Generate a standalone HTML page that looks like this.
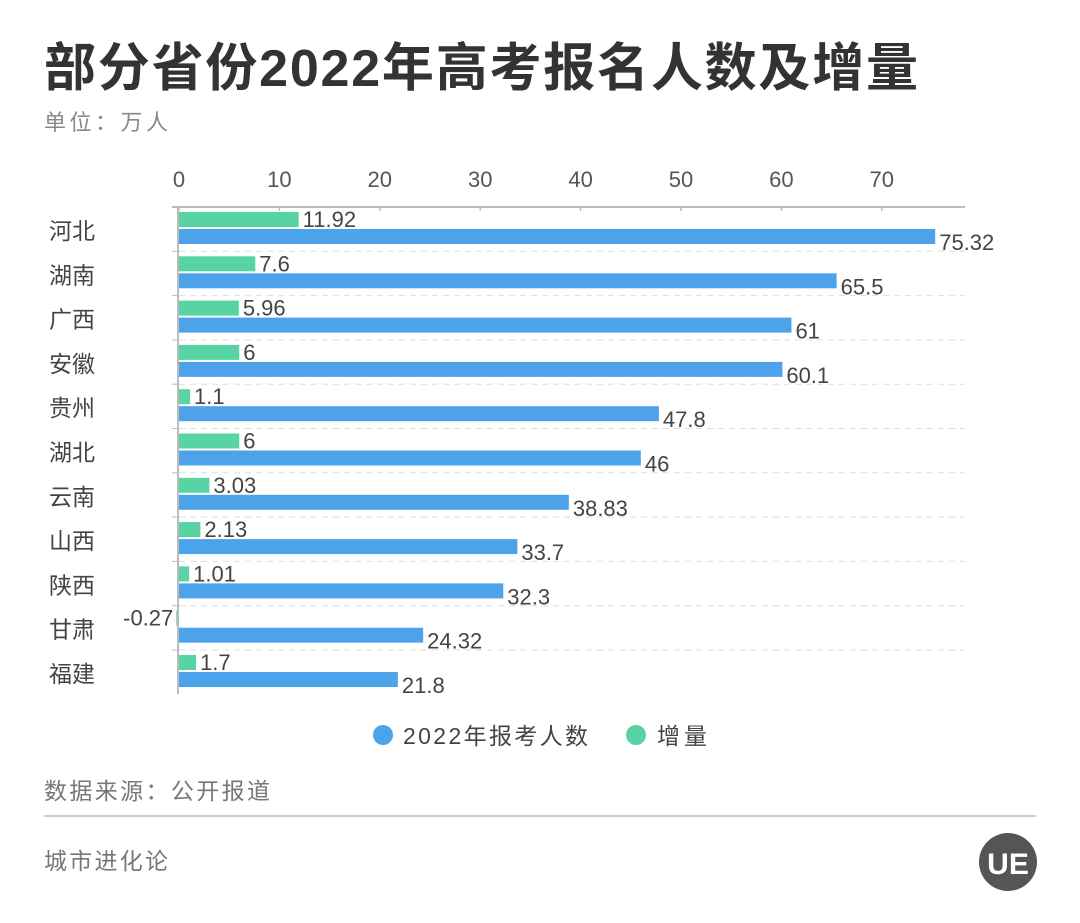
<!DOCTYPE html>
<html><head><meta charset="utf-8"><style>
body{margin:0;width:1080px;height:918px;background:#fff;overflow:hidden;font-family:"Liberation Sans","Noto Sans CJK SC",sans-serif;}
svg text{font-family:"Liberation Sans","Noto Sans CJK SC",sans-serif;}
</style></head><body>
<svg width="1080" height="918">
<text x="44" y="86" font-size="52" font-weight="bold" fill="#333" textLength="874">部分省份2022年高考报名人数及增量</text>
<text x="44" y="130" font-size="22" fill="#888" textLength="124">单位：万人</text>
<g id="plot"></g>
<g>
<g><circle cx="383" cy="735" r="10" fill="#4da3ea"/><text x="403" y="744" font-size="23" fill="#444" textLength="185">2022年报考人数</text></g>
<g><circle cx="636" cy="735" r="10" fill="#57d3a4"/><text x="657" y="744" font-size="23" fill="#444" textLength="50">增量</text></g>
</g>
<text x="44" y="799" font-size="23" fill="#777" textLength="226">数据来源：公开报道</text>
<line x1="44" y1="816" x2="1036" y2="816" stroke="#ccc" stroke-width="2"/>
<text x="44" y="869" font-size="23" fill="#777" textLength="124">城市进化论</text>
<g><circle cx="1008" cy="862" r="29" fill="#555"/><text x="1008" y="874" font-size="30" font-weight="bold" fill="#fff" text-anchor="middle">UE</text></g>
</svg>
<script>
const provinces=["河北","湖南","广西","安徽","贵州","湖北","云南","山西","陕西","甘肃","福建"];
const totals=[75.32,65.5,61,60.1,47.8,46,38.83,33.7,32.3,24.32,21.8];
const increases=[11.92,7.6,5.96,6,1.1,6,3.03,2.13,1.01,-0.27,1.7];
const totalLabels=["75.32","65.5","61","60.1","47.8","46","38.83","33.7","32.3","24.32","21.8"];
const incLabels=["11.92","7.6","5.96","6","1.1","6","3.03","2.13","1.01","-0.27","1.7"];
const ticks=[0,10,20,30,40,50,60,70];
const NS="http://www.w3.org/2000/svg";
const plotG=document.getElementById('plot');
const x0=179,pxPer=10.04,topY=207,band=44.3;
const X=v=>x0+v*pxPer;
function el(t,a){const e=document.createElementNS(NS,t);for(const k in a)e.setAttribute(k,a[k]);plotG.appendChild(e);return e;}
let e;
e=el('line',{x1:172,y1:topY,x2:965,y2:topY,stroke:'#bbb','stroke-width':2});


ticks.forEach(t=>{
 e=el('text',{x:X(t),y:187,'font-size':22,fill:'#555','text-anchor':'middle'});e.textContent=t;
 
 
 e=el('line',{x1:X(t),y1:topY,x2:X(t),y2:topY+4,stroke:'#bbb','stroke-width':1.5});
 
 
});
provinces.forEach((p,i)=>{
 const y=topY+i*band;
 if(i>0){e=el('line',{x1:179,y1:y,x2:965,y2:y,stroke:'#ddd','stroke-dasharray':'6,5'});
 
 }
 e=el('line',{x1:172,y1:y,x2:178,y2:y,stroke:'#bbb'});
 
 
 e=el('text',{x:49,y:y+32,'font-size':23,fill:'#444'});e.textContent=p;
 
 
 const iv=increases[i];
 e=el('rect',{x:Math.min(X(0),X(iv)),y:y+5,width:Math.max(Math.abs(X(iv)-X(0)),1),height:15,fill:'#57d3a4'});
 
 
 e=el('text',{x:iv<0?X(iv)-3:X(iv)+4,y:y+20,'font-size':22,fill:'#444','text-anchor':iv<0?'end':'start'});e.textContent=incLabels[i];
 
 
 e=el('rect',{x:X(0),y:y+22,width:X(totals[i])-X(0),height:15,fill:'#4da3ea'});
 
 
 e=el('text',{x:X(totals[i])+4,y:y+43,'font-size':22,fill:'#444'});e.textContent=totalLabels[i];
 
 
});
e=el('line',{x1:178,y1:topY,x2:178,y2:topY+provinces.length*band,stroke:'#bbb','stroke-width':2});


</script>
</body></html>
